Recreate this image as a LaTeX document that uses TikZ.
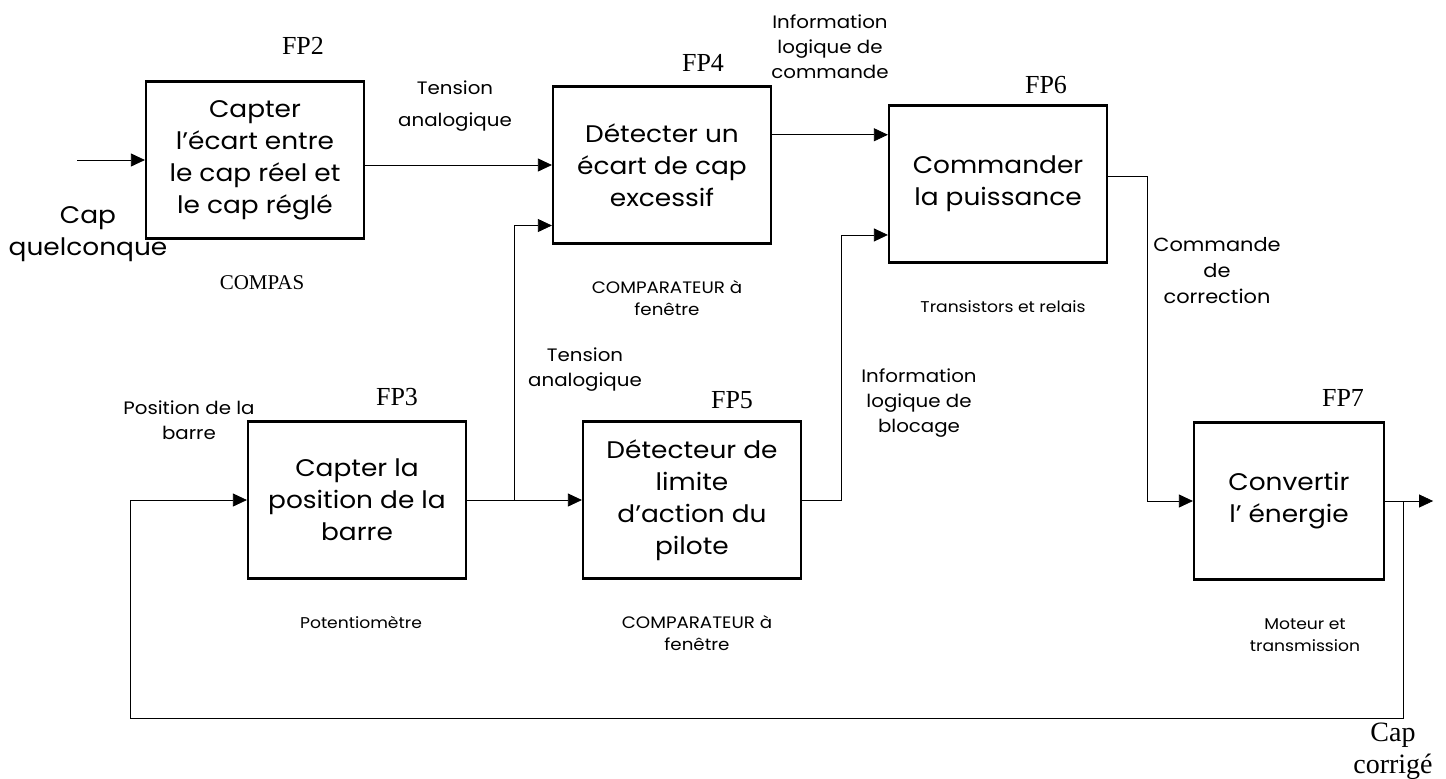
\documentclass[tikz,border=0pt]{standalone}
\usepackage{fontspec}
\setmainfont{Poppins}[FakeStretch=1.1]
\newfontfamily\timesfont{Liberation Serif}
\usetikzlibrary{positioning,calc,arrows.meta}
\tikzset{>={Triangle[length=7pt,width=6.5pt]},
line width=1pt,
fp/.style={rectangle,draw,line width=1.1pt,minimum width=109pt,minimum height=78.5pt,
  align=center,font=\fontsize{12}{16}\selectfont,inner sep=1mm},
tag/.style={font=\timesfont\fontsize{13}{15}\selectfont},
sup/.style={font=\fontsize{7.8}{11}\selectfont,align=center},
el/.style={font=\fontsize{9}{12.5}\selectfont,align=center},
}

\begin{document}
\begin{tikzpicture}[x=0.5pt,y=-0.5pt]
\useasboundingbox (0,0) rectangle (1446,778);
% blocs
\node[fp] (fp2) at (255,160) {Capter\\l'écart entre\\le cap réel et\\le cap réglé};
\node[fp] (fp4) at (662,165) {Détecter un\\écart de cap\\excessif};
\node[fp] (fp6) at (998,184) {Commander\\la puissance};
\node[fp] (fp3) at (357,500) {Capter la\\position de la\\barre};
\node[fp] (fp5) at (692,500) {Détecteur de\\limite\\d'action du\\pilote};
\node[fp,minimum width=95pt] (fp7) at (1289,501) {Convertir\\l' énergie};
% numeros
\node[tag] (t2) at (303,46) {FP2};
\node[tag] (t4) at (703,63) {FP4};
\node[tag] (t6) at (1046,85) {FP6};
\node[tag] (t3) at (397,397) {FP3};
\node[tag] (t5) at (732,400) {FP5};
\node[tag] (t7) at (1343,398) {FP7};
% supports
\node[font=\timesfont\fontsize{10.5}{12}\selectfont] (s2) at (262,283) {COMPAS};
\node[sup,font=\fontsize{8.3}{11}\selectfont] (s4) at (667,298) {COMPARATEUR à\\fenêtre};
\node[sup] (s6) at (1003,307) {Transistors et relais};
\node[sup] (s3) at (361,622) {Potentiomètre};
\node[sup,font=\fontsize{8.3}{11}\selectfont] (s5) at (697,633) {COMPARATEUR à\\fenêtre};
\node[sup] (s7) at (1305,635) {Moteur et\\transmission};
% liaisons
\coordinate (in) at (77,160);
\coordinate (j1) at (514,500);
\coordinate (fbl) at (130,718);
\draw[->] (in) -- (fp2.west);
\draw[->] (fp2.east |- fp4.west) -- (fp4.west);
\draw[->] (fp3.east) -- (fp5.west);
\draw[->] (j1) |- ($(fp4.south west)!0.12!(fp4.north west)$);
\draw[->] ($(fp4.south east)!0.69!(fp4.north east)$) coordinate (o4) -- (o4 -| fp6.west);
\draw[->] (fp5.east) -- ++(39,0) |- ($(fp6.south west)!0.18!(fp6.north west)$);
\draw[->] ($(fp6.south east)!0.55!(fp6.north east)$) -- ++(39,0) |- (fp7.west);
\draw[->] (fp7.east) -- ++(48,0) coordinate (out);
\coordinate (j2) at ($(fp7.east)+(18,0)$);
\draw[->] (j2) |- (fbl) |- (fp3.west);
% textes des liaisons
\node[font=\fontsize{12}{16}\selectfont,align=center] (e1) at (88,234) {Cap\\quelconque};
\node[el,font=\fontsize{9}{16}\selectfont] (e2) at (455,106) {Tension\\analogique};
\node[el] (e3) at (830,47) {Information\\logique de\\commande};
\node[el] (e4) at (585,370) {Tension\\analogique};
\node[el] (e5) at (919,403) {Information\\logique de\\blocage};
\node[el] (e0) at (189,420) {Position de la\\barre};
\node[el,font=\fontsize{9.5}{13}\selectfont] (e6) at (1217,271) {Commande\\de\\correction};
\node[font=\timesfont\fontsize{14}{16}\selectfont,align=center] (e7) at (1393,751) {Cap\\corrigé};
\end{tikzpicture}
\end{document}
